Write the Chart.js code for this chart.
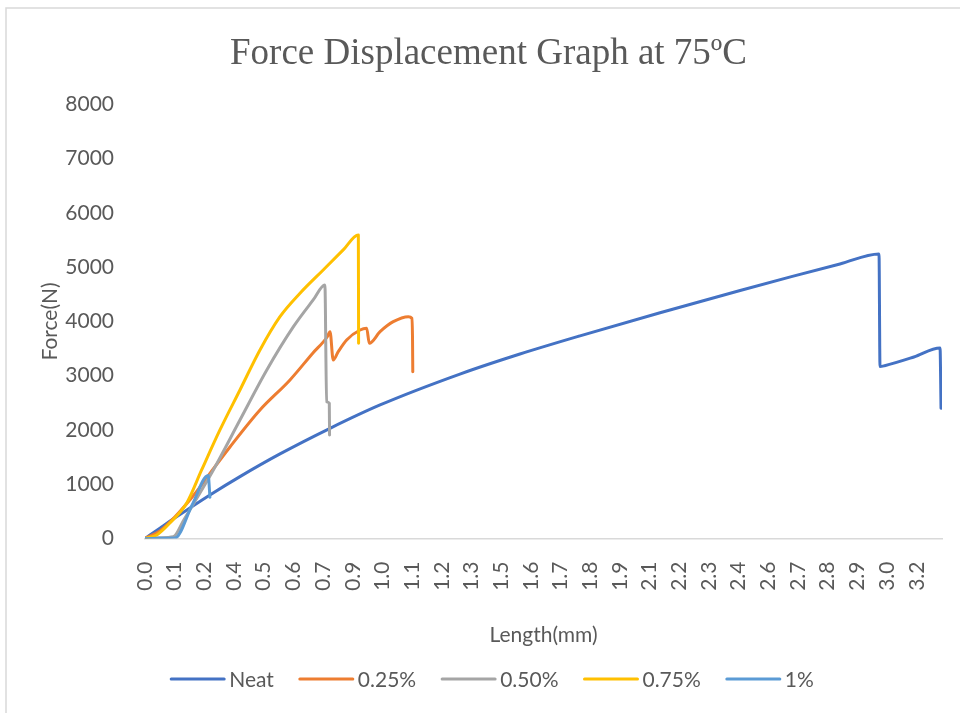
<!DOCTYPE html>
<html>
<head>
<meta charset="utf-8">
<script src="https://cdn.jsdelivr.net/npm/chart.js@4.4.1/dist/chart.umd.min.js"></script>
<style>
  html, body { margin: 0; padding: 0; background: #ffffff; }
  #wrap { width: 960px; height: 713px; position: relative; }
</style>
</head>
<body>
<div id="wrap"><canvas id="chart" width="960" height="713"></canvas></div>
<script>
// Category labels printed along the length axis (one every 0.1216 mm of travel)
const lengthTickLabels = ['0.0','0.1','0.2','0.4','0.5','0.6','0.7','0.9','1.0','1.1','1.2','1.3','1.5',
  '1.6','1.7','1.8','1.9','2.1','2.2','2.3','2.4','2.6','2.7','2.8','2.9','3.0','3.2'];
const LABEL_STEP = 0.1216;
const forceTicks = [0, 1000, 2000, 3000, 4000, 5000, 6000, 7000, 8000];

// Neat resin
const neatLength = [0, 0.061, 0.123, 0.266, 0.389, 0.553, 0.758, 0.963, 1.290, 1.536, 1.782, 2.110,
  2.438, 2.652, 2.847, 3.007, 3.011, 3.030, 3.150, 3.257, 3.261];
const neatForce = [0, 190, 381, 803, 1141, 1559, 2031, 2461, 3030, 3400, 3735, 4160,
  4570, 4830, 5060, 5245, 3170, 3185, 3345, 3510, 2400];

// 0.25 %
const p025Length = [0, 0.061, 0.123, 0.205, 0.266, 0.348, 0.471, 0.594, 0.688, 0.746, 0.758, 0.771,
  0.791, 0.826, 0.881, 0.908, 0.919, 0.963, 1.017, 1.079, 1.093, 1.096, 1.097];
const p025Force = [0, 140, 400, 830, 1200, 1687, 2369, 2922, 3419, 3714, 3812, 3290,
  3438, 3659, 3843, 3874, 3598, 3812, 3996, 4088, 4059, 3659, 3075];

// 0.50 %
const p050Length = [0, 0.061, 0.116, 0.160, 0.225, 0.280, 0.389, 0.499, 0.608, 0.689, 0.737, 0.744, 0.755, 0.756];
const p050Force = [0, 15, 33, 350, 839, 1263, 2184, 3106, 3904, 4396, 4673, 2522, 2492, 1908];

// 0.75 %
const p075Length = [0, 0.048, 0.102, 0.171, 0.232, 0.307, 0.389, 0.471, 0.553, 0.635, 0.730, 0.812, 0.874, 0.875];
const p075Force = [0, 65, 286, 654, 1263, 2000, 2737, 3475, 4088, 4520, 4949, 5318, 5594, 3598];

// 1 %
const p100Length = [0, 0.061, 0.123, 0.193, 0.259, 0.266];
const p100Force = [0, 5, 9, 618, 1160, 760];

const seriesNames = ['Neat', '0.25%', '0.50%', '0.75%', '1%'];
const seriesColors = ['#4472C4', '#ED7D31', '#A5A5A5', '#FFC000', '#5B9BD5'];

const toPoints = (xs, ys) => xs.map((x, i) => ({ x: x, y: ys[i] }));
const seriesData = [
  toPoints(neatLength, neatForce),
  toPoints(p025Length, p025Force),
  toPoints(p050Length, p050Force),
  toPoints(p075Length, p075Force),
  toPoints(p100Length, p100Force)
];

const TEXT_COLOR = '#595959';
const SANS = 'Lato, "Liberation Sans", sans-serif';

// Outer frame of the chart area
const framePlugin = {
  id: 'frame',
  beforeDraw(chart) {
    const ctx = chart.ctx;
    ctx.save();
    ctx.fillStyle = '#ffffff';
    ctx.fillRect(0, 0, chart.width, chart.height);
    ctx.strokeStyle = '#D9D9D9';
    ctx.lineWidth = 1.5;
    ctx.strokeRect(6, 8, chart.width + 20, chart.height + 20);
    ctx.restore();
  }
};

// Horizontal legend row under the axis title
const legendRowPlugin = {
  id: 'legendRow',
  afterDraw(chart) {
    const ctx = chart.ctx;
    const sampleW = 53, gap = 5, spacing = 26, centerX = 492.5, y = 679;
    ctx.save();
    ctx.font = '21px ' + SANS;
    ctx.textBaseline = 'middle';
    ctx.textAlign = 'left';
    const items = chart.data.datasets.map(ds => ({
      label: ds.label, color: ds.borderColor, w: sampleW + gap + ctx.measureText(ds.label).width
    }));
    const total = items.reduce((s, it) => s + it.w, 0) + spacing * (items.length - 1);
    let x = centerX - total / 2;
    items.forEach(it => {
      ctx.strokeStyle = it.color;
      ctx.lineWidth = 3;
      ctx.lineCap = 'round';
      ctx.beginPath();
      ctx.moveTo(x, y);
      ctx.lineTo(x + sampleW, y);
      ctx.stroke();
      ctx.fillStyle = TEXT_COLOR;
      ctx.fillText(it.label, x + sampleW + gap, y + 1);
      x += it.w + spacing;
    });
    ctx.restore();
  }
};

new Chart(document.getElementById('chart'), {
  type: 'line',
  data: {
    datasets: seriesData.map((pts, i) => ({
      label: seriesNames[i],
      data: pts,
      borderColor: seriesColors[i],
      backgroundColor: seriesColors[i],
      borderWidth: 3,
      pointRadius: 0,
      cubicInterpolationMode: 'monotone',
      fill: false,
      borderJoinStyle: 'round',
      borderCapStyle: 'round',
      order: seriesNames.length - i
    }))
  },
  options: {
    responsive: false,
    devicePixelRatio: 1,
    animation: false,
    layout: { padding: { left: 35, right: 18, top: 0, bottom: 0 } },
    plugins: {
      legend: { display: false },
      tooltip: { enabled: false },
      title: {
        display: true,
        text: 'Force Displacement Graph at 75ºC',
        color: TEXT_COLOR,
        font: { family: '"Liberation Serif", "Times New Roman", serif', size: 37, weight: 'normal', lineHeight: 1.2 },
        padding: { top: 32, bottom: 28 }
      }
    },
    scales: {
      x: {
        type: 'linear',
        min: 0,
        max: 3.265,
        grid: { display: false },
        border: { display: true, color: '#D9D9D9', width: 1.5 },
        afterBuildTicks(scale) {
          scale.ticks = lengthTickLabels.map((_, i) => ({ value: i * LABEL_STEP }));
        },
        afterFit(scale) { scale.height = 174.5; },
        ticks: {
          autoSkip: false,
          minRotation: 90,
          maxRotation: 90,
          padding: 15,
          color: TEXT_COLOR,
          font: { family: SANS, size: 21 },
          callback: (value, index) => lengthTickLabels[index]
        },
        title: {
          display: true,
          text: 'Length(mm)',
          color: TEXT_COLOR,
          font: { family: SANS, size: 21, lineHeight: 1.2 },
          padding: { top: 0, bottom: 65 }
        }
      },
      y: {
        type: 'linear',
        min: 0,
        max: 8000,
        grid: { display: false },
        border: { display: false },
        afterBuildTicks(scale) {
          scale.ticks = forceTicks.map(v => ({ value: v }));
        },
        afterFit(scale) { scale.width = 110; },
        ticks: {
          padding: 23,
          color: TEXT_COLOR,
          font: { family: SANS, size: 21 },
          callback: (value) => String(value)
        },
        title: {
          display: true,
          text: 'Force(N)',
          color: TEXT_COLOR,
          font: { family: SANS, size: 21, lineHeight: 1.2 },
          padding: { top: 2.5, bottom: 0 }
        }
      }
    }
  },
  plugins: [framePlugin, legendRowPlugin]
});
</script>
</body>
</html>
